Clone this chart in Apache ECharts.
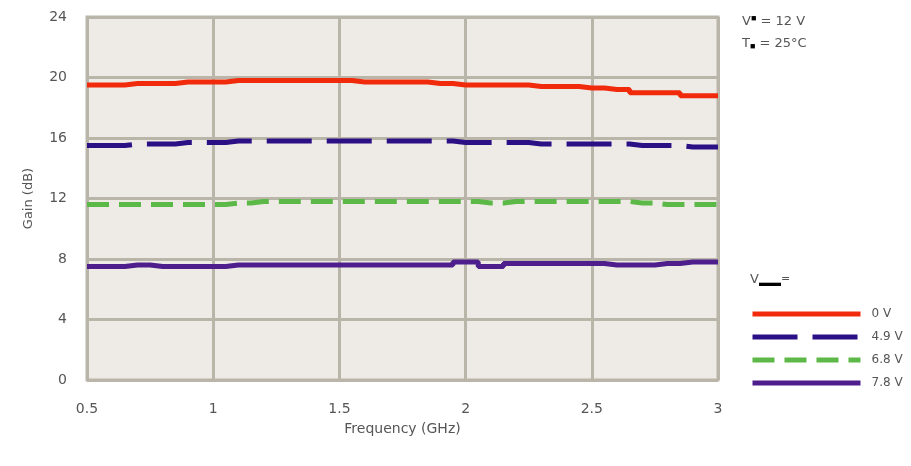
<!DOCTYPE html>
<html><head><meta charset="utf-8">
<script src="https://cdn.jsdelivr.net/npm/echarts@6/dist/echarts.min.js"></script>
<style>html,body{margin:0;padding:0;background:#fff}#c{width:911px;height:466px}</style>
</head><body><div id="c"></div>
<script>
const freq = [0.5,0.6,0.7,0.8,0.9,1.0,1.1,1.2,1.3,1.4,1.5,1.6,1.7,1.8,1.9,2.0,2.1,2.2,2.3,2.4,2.5,2.6,2.7,2.8,2.9,3.0];
const gain0V  = [19.5,19.5,19.6,19.6,19.7,19.7,19.8,19.8,19.8,19.8,19.8,19.7,19.7,19.7,19.6,19.5,19.5,19.5,19.4,19.4,19.3,19.2,19.0,19.0,18.8,18.8];
const gain49V = [15.5,15.5,15.6,15.6,15.7,15.7,15.8,15.8,15.8,15.8,15.8,15.8,15.8,15.8,15.8,15.7,15.7,15.7,15.6,15.6,15.6,15.6,15.5,15.5,15.4,15.4];
const gain68V = [11.6,11.6,11.6,11.6,11.6,11.6,11.7,11.8,11.8,11.8,11.8,11.8,11.8,11.8,11.8,11.8,11.7,11.8,11.8,11.8,11.8,11.8,11.7,11.6,11.6,11.6];
const gain78V = [7.5,7.5,7.6,7.5,7.5,7.5,7.6,7.6,7.6,7.6,7.6,7.6,7.6,7.6,7.6,7.8,7.5,7.7,7.7,7.7,7.7,7.6,7.6,7.7,7.8,7.8];
const seriesNames = ['0 V','4.9 V','6.8 V','7.8 V'];
const yTicks = [0,4,8,12,16,20,24];
const xTicks = [0.5,1,1.5,2,2.5,3];

const txt = '#555';
const font = 'DejaVu Sans';
const gridCol = '#b9b6a9';
function pair(ys){ return freq.map((f,i)=>[f, ys[i]]); }
const colors = ['#f02a0a','#2a0f85','#5cb847','#4d1e8c'];
const types = ['solid',[45,15],[22,10],'solid'];
const datas = [gain0V,gain49V,gain68V,gain78V];

const chart = echarts.init(document.getElementById('c'));
chart.setOption({
  animation:false,
  backgroundColor:'#fff',
  grid:{left:87,right:193,top:17,bottom:86,show:true,backgroundColor:'#eeebe6',borderColor:gridCol,borderWidth:3},
  xAxis:{type:'value',min:0.5,max:3,interval:0.5,
    name:'Frequency (GHz)',nameLocation:'middle',nameGap:42,
    nameTextStyle:{color:txt,fontFamily:font,fontSize:14},
    axisLine:{show:false},axisTick:{show:false},
    axisLabel:{color:txt,fontFamily:font,fontSize:14,margin:22,formatter:v=>String(v)},
    splitLine:{show:true,lineStyle:{color:gridCol,width:3}}},
  yAxis:{type:'value',min:0,max:24,interval:4,
    name:'Gain (dB)',nameLocation:'middle',nameGap:52,
    nameTextStyle:{color:txt,fontFamily:font,fontSize:13},
    axisLine:{show:false},axisTick:{show:false},
    axisLabel:{color:txt,fontFamily:font,fontSize:14,margin:20},
    splitLine:{show:true,lineStyle:{color:gridCol,width:3}}},
  legend:{orient:'vertical',left:745,top:303,itemWidth:108,itemHeight:10,itemGap:11,
    itemStyle:{opacity:0},lineStyle:{width:5},
    textStyle:{color:txt,fontFamily:font,fontSize:12,padding:[0,0,0,6]},
    data:seriesNames},
  graphic:[
    {type:'text',left:742,top:14,style:{
      text:'{v|V}{s|■} = 12 V', rich:{v:{fontFamily:font,fontSize:13,fill:txt},s:{fontSize:9,fill:'#000',verticalAlign:'top',padding:[0,0,6,0]}},
      fill:txt,fontFamily:font,fontSize:13}},
    {type:'text',left:742,top:37,style:{
      text:'{v|T}{s|■} = 25°C', rich:{v:{fontFamily:font,fontSize:13,fill:txt},s:{fontSize:9,fill:'#000',padding:[6,0,0,0]}},
      fill:txt,fontFamily:font,fontSize:13}},
    {type:'text',left:750,top:273,style:{
      text:'{v|V}{b|▬▬}{e|=}', rich:{v:{fontFamily:font,fontSize:13,fill:txt},b:{fontSize:11,fill:'#000',padding:[6,0,0,0]},e:{fontFamily:font,fontSize:11,fill:txt}},
      fill:txt,fontFamily:font,fontSize:13}}
  ],
  series: datas.map((d,i)=>({
    name:seriesNames[i],type:'line',data:pair(d),symbol:'none',step:'middle',
    lineStyle:{color:colors[i],width:5,type:types[i]},itemStyle:{color:colors[i]}
  }))
});
</script></body></html>
